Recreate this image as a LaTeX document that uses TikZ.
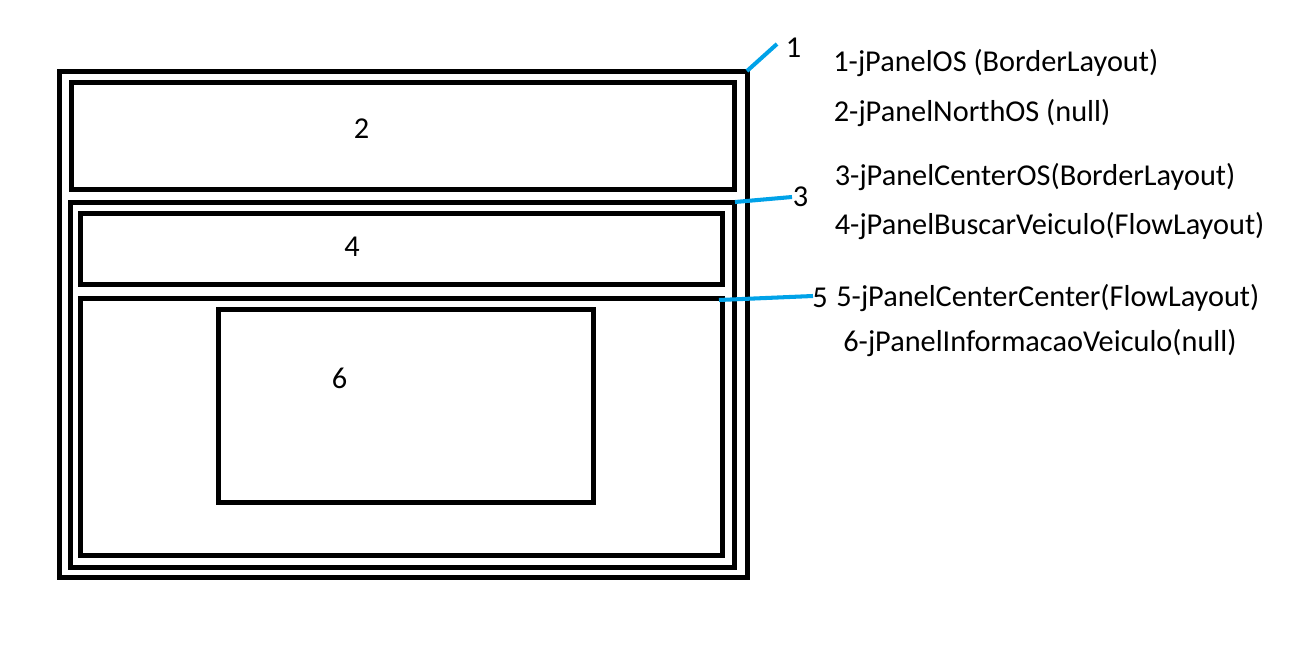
\documentclass[tikz,border=0pt]{standalone}
\usepackage{fontspec}
\setmainfont{Carlito}
\definecolor{paintblue}{RGB}{0,162,232}
\begin{document}
\begin{tikzpicture}[x=0.02cm,y=-0.02cm,
        panel/.style={line width=2.85pt},
        leader/.style={paintblue,line width=2.3pt},
        num/.style={anchor=base,inner sep=0pt,font=\fontsize{17.25}{20}\selectfont},
        legend/.style={anchor=base west,inner sep=0pt,font=\fontsize{17.25}{20}\selectfont}]
    \useasboundingbox (0,0) rectangle (1301,648);
    % panels
    \draw[panel] (59.5,72) rectangle (747.5,577.5);
    \draw[panel] (71.5,82.5) rectangle (734.5,189.5);
    \draw[panel] (70.5,202.5) rectangle (734.5,567.5);
    \draw[panel] (80.5,213.5) rectangle (722.5,284.5);
    \draw[panel] (80.5,298.5) rectangle (722.5,555.5);
    \draw[panel] (218.5,309.5) rectangle (593.5,502.5);
    \node[num] (n2) at (361.5,139) {2};
    \node[num] (n4) at (352,257) {4};
    \node[num] (n6) at (339.5,388) {6};
    % leaders
    \coordinate (p1) at (747,71);
    \coordinate (e1) at (777,44);
    \coordinate (p3) at (735,202);
    \coordinate (e3) at (792,197);
    \coordinate (p5) at (719,300);
    \coordinate (e5) at (813,296);
    \draw[leader] (p1) -- (e1);
    \draw[leader] (p3) -- (e3);
    \draw[leader] (p5) -- (e5);
    \node[num] (n1) at (793.5,58) {1};
    \node[num] (n3) at (800.5,207) {3};
    \node[num] (n5) at (820,308) {5};
    % legend
    \node[legend] (l1) at (833,71.7) {1-jPanelOS (BorderLayout)};
    \node[legend] (l2) at (833.5,121.7) {2-jPanelNorthOS (null)};
    \node[legend] (l3) at (834.5,185.7) {3-jPanelCenterOS(BorderLayout)};
    \node[legend] (l4) at (834.5,235) {4-jPanelBuscarVeiculo(FlowLayout)};
    \node[legend] (l5) at (836,306.7) {5-jPanelCenterCenter(FlowLayout)};
    \node[legend] (l6) at (843,351.7) {6-jPanelInformacaoVeiculo(null)};
\end{tikzpicture}
\end{document}
